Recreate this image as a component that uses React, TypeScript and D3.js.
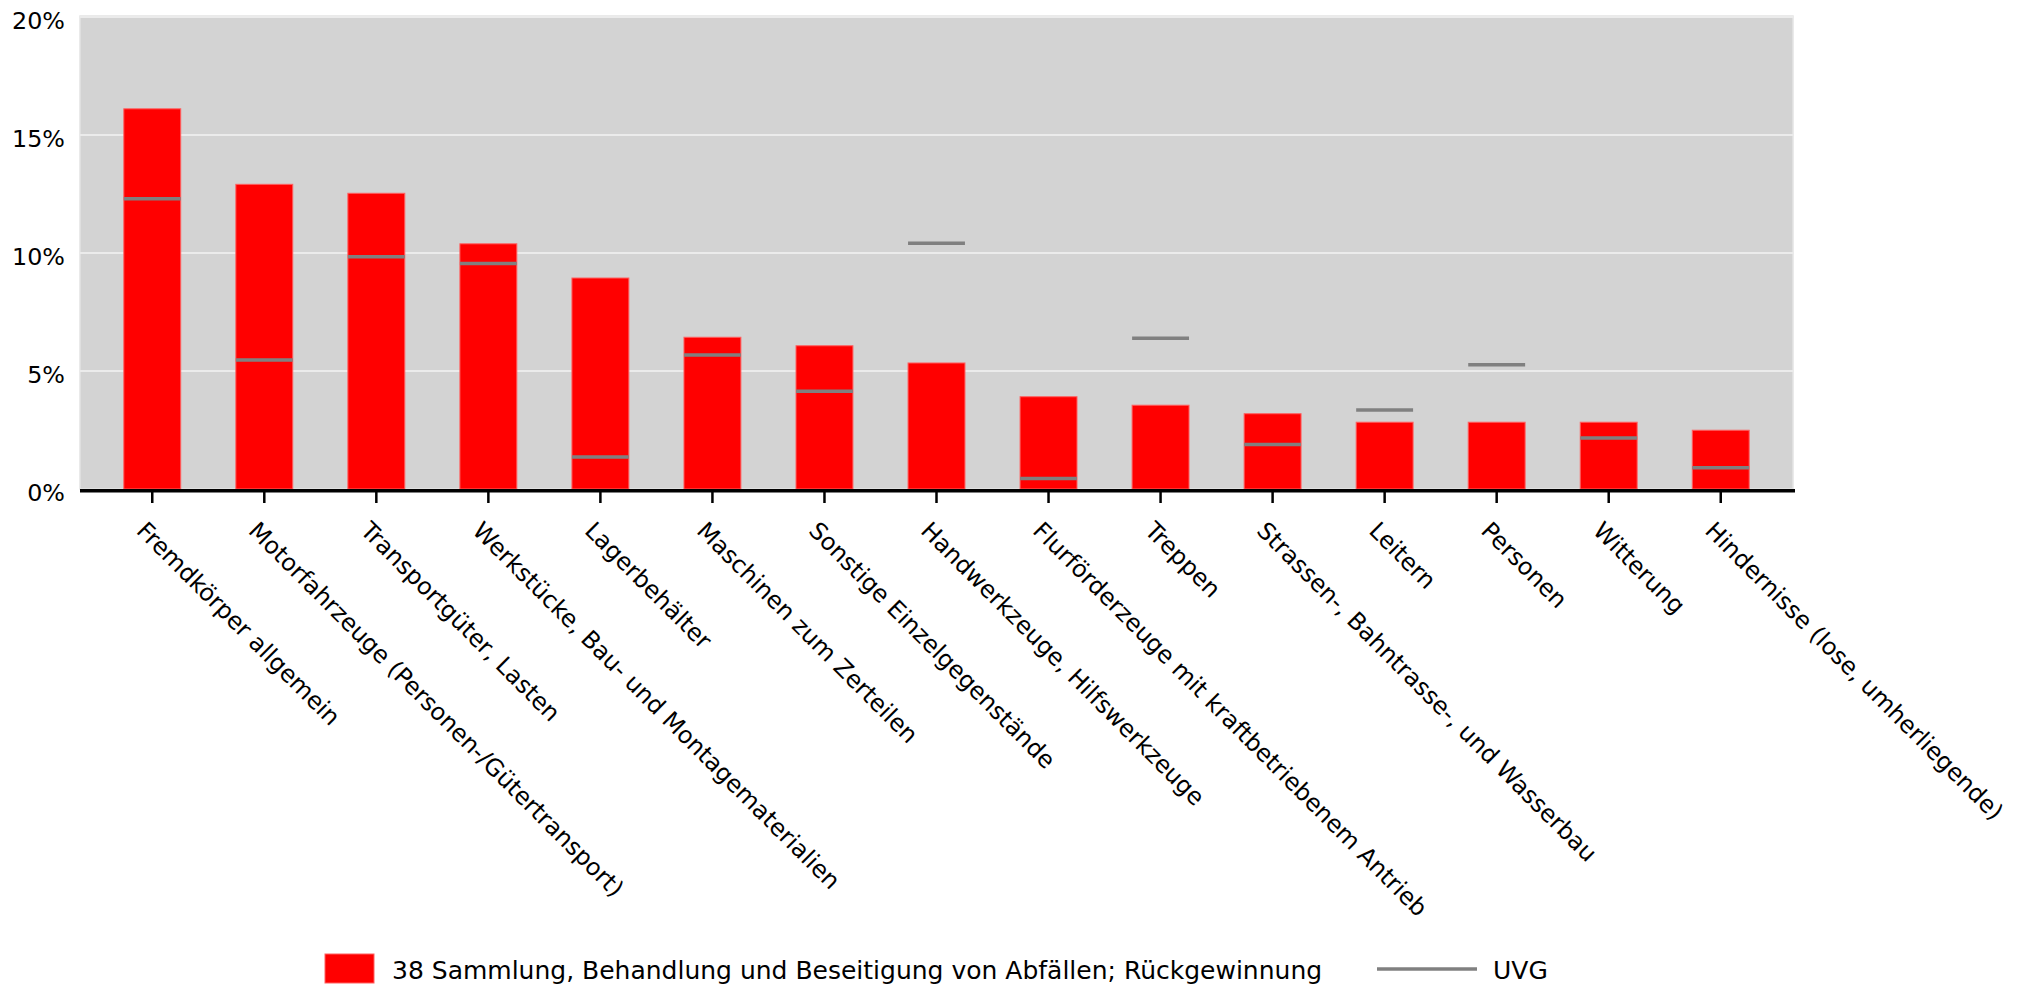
import React from "react";
import * as d3 from "d3";

const categories = [
  "Fremdkörper allgemein",
  "Motorfahrzeuge (Personen-/Gütertransport)",
  "Transportgüter, Lasten",
  "Werkstücke, Bau- und Montagematerialien",
  "Lagerbehälter",
  "Maschinen zum Zerteilen",
  "Sonstige Einzelgegenstände",
  "Handwerkzeuge, Hilfswerkzeuge",
  "Flurförderzeuge mit kraftbetriebenem Antrieb",
  "Treppen",
  "Strassen-, Bahntrasse-, und Wasserbau",
  "Leitern",
  "Personen",
  "Witterung",
  "Hindernisse (lose, umherliegende)",
];

const sectorValues = [16.11, 12.91, 12.53, 10.39, 8.94, 6.43, 6.07, 5.34, 3.91, 3.55, 3.19, 2.83, 2.83, 2.83, 2.49];
const uvgValues = [12.3, 5.47, 9.84, 9.55, 1.36, 5.68, 4.14, 10.41, 0.45, 6.39, 1.89, 3.35, 5.27, 2.16, 0.9];
const yTicks = [0, 5, 10, 15, 20];

const seriesName = "38 Sammlung, Behandlung und Beseitigung von Abfällen; Rückgewinnung";
const uvgName = "UVG";

const W = 2021;
const H = 989;
const FONT = "'DejaVu Sans', Verdana, sans-serif";

export default function App() {
  const left = 80;
  const right = 1793;
  const x = d3.scalePoint<string>().domain(categories).range([left, right]).padding(0.645);
  const y = d3.scaleLinear().domain([0, 20]).range([489, 17]);
  const step = x.step();
  const bw = step * 0.508;

  return (
    <svg width={W} height={H} style={{ position: "absolute", left: 0, top: 0, background: "#fff" }}>
      <rect x={left} y={y(20) - 1} width={right - left} height={y(0) - y(20) + 1} fill="#d3d3d3" stroke="#e4e4e4" strokeWidth={1.5} />
      {yTicks.map((t) => (
        <g key={t}>
          {t > 0 && <line x1={left} x2={right} y1={y(t)} y2={y(t)} stroke="#ebebeb" strokeWidth={2} />}
          <text x={65} y={y(t) + 12} textAnchor="end" fontFamily={FONT} fontSize={23.8} fill="#000">
            {t + "%"}
          </text>
        </g>
      ))}
      {categories.map((c, i) => {
        const cx = x(c)!;
        return (
          <g key={c}>
            <rect
              x={cx - bw / 2}
              y={y(sectorValues[i])}
              width={bw}
              height={y(0) - y(sectorValues[i])}
              fill="#ff0000"
              stroke="#ff6060"
              strokeWidth={1}
            />
            <line x1={cx - bw / 2} x2={cx + bw / 2} y1={y(uvgValues[i])} y2={y(uvgValues[i])} stroke="#808080" strokeWidth={3.5} />
          </g>
        );
      })}
      <line x1={left} x2={right + 2} y1={y(0) + 1.7} y2={y(0) + 1.7} stroke="#000" strokeWidth={3.6} />
      {categories.map((c) => {
        const cx = x(c)!;
        return (
          <g key={"t" + c}>
            <line x1={cx} x2={cx} y1={y(0) + 3} y2={y(0) + 14} stroke="#000" strokeWidth={2.5} />
            <text
              transform={`translate(${cx - 17},${y(0) + 43}) rotate(45)`}
              fontFamily={FONT}
              fontSize={23.8}
              fill="#000"
            >
              {c}
            </text>
          </g>
        );
      })}
      <rect x={325} y={954} width={49} height={29} fill="#ff0000" stroke="#ff6060" strokeWidth={1} />
      <text x={392} y={979} fontFamily={FONT} fontSize={25} fill="#000">
        {seriesName}
      </text>
      <line x1={1377} x2={1477} y1={969} y2={969} stroke="#808080" strokeWidth={3.5} />
      <text x={1493} y={979} fontFamily={FONT} fontSize={25} fill="#000">
        {uvgName}
      </text>
    </svg>
  );
}
